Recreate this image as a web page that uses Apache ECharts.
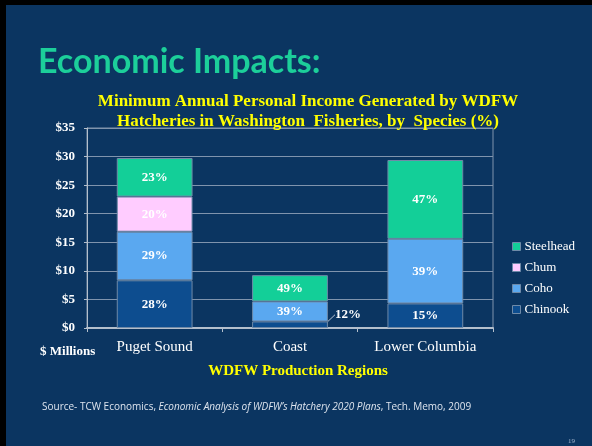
<!DOCTYPE html>
<html>
<head>
<meta charset="utf-8">
<script src="https://cdn.jsdelivr.net/npm/echarts@6/dist/echarts.min.js"></script>
<style>
html,body{margin:0;padding:0;background:#0b3561;}
#chart{position:absolute;left:0;top:0;width:592px;height:446px;background:#0b3561;box-shadow:inset 6px 5px 0 0 #000;}
</style>
</head>
<body>
<div id="chart"></div>
<script>
const categories = ['Puget Sound', 'Coast', 'Lower Columbia'];
const chinook = [8.35, 1.15, 4.3];
const coho = [8.5, 3.5, 11.3];
const chum = [6.15, 0, 0];
const steelhead = [6.75, 4.6, 13.8];
const chinookPct = ['28%', '12%', '15%'];
const cohoPct = ['29%', '39%', '39%'];
const chumPct = ['20%', '', ''];
const steelheadPct = ['23%', '49%', '47%'];
const yTicks = [0, 5, 10, 15, 20, 25, 30, 35];

const colors = {
  Steelhead: '#13cf98',
  Chum: '#ffccff',
  Coho: '#5aa8f0',
  Chinook: '#0d4d8f'
};
const serif = 'Liberation Serif';

function makeSeries(name, values, pcts) {
  return {
    name: name,
    type: 'bar',
    stack: 'total',
    barWidth: '56%',
    itemStyle: { color: colors[name], borderColor: '#6f8aa8', borderWidth: 1 },
    label: {
      show: true,
      position: 'inside',
      color: '#ffffff',
      fontFamily: serif,
      fontWeight: 'bold',
      fontSize: 13,
      formatter: p => pcts[p.dataIndex]
    },
    data: values.map(v => v || null)
  };
}

const sChinook = makeSeries('Chinook', chinook, chinookPct);
sChinook.labelLayout = function (p) {
  if (p.dataIndex === 1) return { dx: 58, dy: -10 };
  return {};
};
sChinook.labelLine = { show: true, lineStyle: { color: '#b8c4d4', width: 1 } };

const chart = echarts.init(document.getElementById('chart'), null, { renderer: 'canvas' });
chart.setOption({
  backgroundColor: 'transparent',
  animation: false,
  title: [
    {
      text: 'Economic Impacts:',
      left: 33, top: 40,
      textStyle: { color: '#1ccf9a', fontFamily: 'Lato', fontWeight: 'bold', fontSize: 34 }
    },
    {
      text: 'Minimum Annual Personal Income Generated by WDFW\nHatcheries in Washington  Fisheries, by  Species (%)',
      left: 303, top: 87, textAlign: 'center',
      textStyle: { color: '#ffff00', fontFamily: serif, fontWeight: 'bold', fontSize: 17, lineHeight: 20 }
    },
    {
      text: '$ Millions',
      left: 35, top: 340,
      textStyle: { color: '#ffffff', fontFamily: serif, fontWeight: 'bold', fontSize: 13 }
    },
    {
      text: 'WDFW Production Regions',
      left: 293, top: 359, textAlign: 'center',
      textStyle: { color: '#ffff00', fontFamily: serif, fontWeight: 'bold', fontSize: 15 }
    },
    {
      text: 'Source- TCW Economics, {i|Economic Analysis of WDFW\u2019s Hatchery 2020 Plans}, Tech. Memo, 2009',
      left: 37, top: 397,
      textStyle: {
        color: '#dde4ee', fontFamily: 'Open Sans', fontWeight: 'normal', fontSize: 10,
        rich: { i: { fontStyle: 'italic', fontWeight: 'normal', color: '#dde4ee', fontFamily: 'Open Sans', fontSize: 10 } }
      }
    },
    {
      text: '19',
      left: 563, top: 433,
      textStyle: { color: '#9fb3cc', fontFamily: serif, fontWeight: 'normal', fontSize: 7 }
    }
  ],
  legend: {
    orient: 'vertical',
    left: 507, top: 235,
    itemWidth: 8, itemHeight: 8, itemGap: 8,
    icon: 'rect',
    data: ['Steelhead', 'Chum', 'Coho', 'Chinook'],
    textStyle: { color: '#ffffff', fontFamily: serif, fontSize: 13, padding: [0, 0, 0, -1] },
    itemStyle: { borderColor: '#6f8aa8', borderWidth: 1 }
  },
  grid: {
    left: 87, right: 99, top: 128, bottom: 118,
    show: true, borderColor: '#8094ad', borderWidth: 1
  },
  xAxis: {
    type: 'category',
    data: categories,
    axisLine: { lineStyle: { color: '#b4bfcc', width: 2 } },
    axisTick: { show: true, length: 4, lineStyle: { color: '#b4bfcc' } },
    axisLabel: { color: '#ffffff', fontFamily: serif, fontSize: 15, margin: 12, interval: 0 }
  },
  yAxis: {
    type: 'value',
    min: 0, max: 35, interval: 5,
    axisLine: { show: true, lineStyle: { color: '#b4bfcc', width: 1 } },
    axisTick: { show: true, length: 3, lineStyle: { color: '#b4bfcc' } },
    splitLine: { lineStyle: { color: '#8094ad', width: 1 } },
    axisLabel: {
      color: '#ffffff', fontFamily: serif, fontWeight: 'bold', fontSize: 13, margin: 12,
      formatter: v => yTicks.indexOf(v) >= 0 ? '$' + v : ''
    }
  },
  series: [
    sChinook,
    makeSeries('Coho', coho, cohoPct),
    makeSeries('Chum', chum, chumPct),
    makeSeries('Steelhead', steelhead, steelheadPct)
  ]
});
</script>
</body>
</html>
